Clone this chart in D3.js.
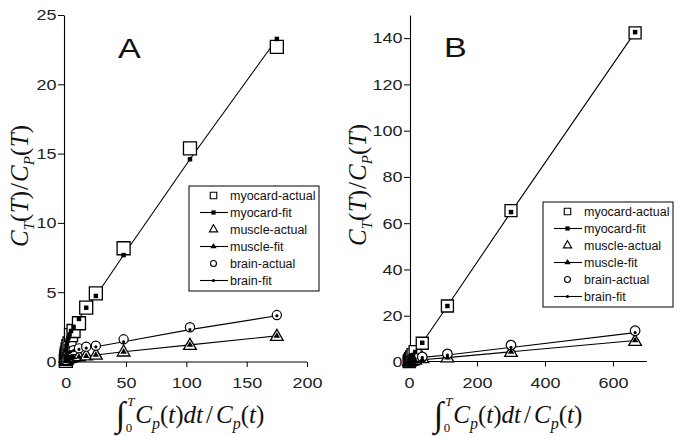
<!DOCTYPE html>
<html><head><meta charset="utf-8">
<script src="https://cdn.jsdelivr.net/npm/d3@7"></script>
<style>body{margin:0;background:#fff}svg{display:block}</style>
</head><body>
<script>
// ---------- data ----------
const legendLabels = ["myocard-actual","myocard-fit","muscle-actual","muscle-fit","brain-actual","brain-fit"];
const panelLabels = ["A","B"];

const xA      = [0.1,0.3,0.6,1.0,1.5,2.2,3.2,4.4,6.5,11,17,25,48,103,175];
const myoActA = [0.05,0.2,0.4,0.6,0.85,1.1,1.3,1.9,2.2,2.76,3.88,4.92,8.17,15.38,22.7];
const myoFitA = [0.35,0.8,1.1,1.3,1.5,1.7,1.95,2.2,2.5,3.07,3.88,4.73,7.68,14.59,23.27];
const musActA = [0.02,0.06,0.1,0.13,0.16,0.19,0.21,0.24,0.28,0.32,0.38,0.43,0.66,1.14,1.79];
const musFitA = [0.04,0.09,0.12,0.15,0.18,0.2,0.22,0.25,0.29,0.33,0.39,0.47,0.7,1.2,1.85];
const brnActA = [0.1,0.25,0.4,0.5,0.58,0.64,0.7,0.75,0.82,0.95,1.07,1.14,1.6,2.47,3.35];
const brnFitA = [0.15,0.3,0.42,0.5,0.57,0.62,0.67,0.72,0.78,0.88,0.97,1.06,1.42,2.3,3.3];

const xB      = [0.5,1.5,3,5,8,12,18,39,113,300,665];
const myoActB = [0.2,0.5,0.9,1.4,2.2,3.2,4.5,8.1,24.2,65.4,142.3];
const myoFitB = [0.3,0.6,1.0,1.5,2.2,3.0,4.3,8.3,24.2,64.8,142.6];
const musActB = [0.05,0.1,0.2,0.3,0.4,0.5,0.7,1.3,1.6,4.0,8.8];
const musFitB = [0.05,0.15,0.25,0.35,0.45,0.55,0.7,1.0,1.9,4.4,9.3];
const brnActB = [0.2,0.5,0.8,1.0,1.2,1.4,1.7,2.2,3.5,7.3,13.5];
const brnFitB = [0.3,0.6,0.85,1.0,1.15,1.3,1.5,2.0,3.0,6.3,12.7];

const xTicksA = [0,50,100,150,200];
const yTicksA = [0,5,10,15,20,25];
const xTicksB = [0,200,400,600];
const yTicksB = [0,20,40,60,80,100,120,140];

// ---------- drawing ----------
const W = 685, H = 436;
const svg = d3.select("body").append("svg").attr("width", W).attr("height", H);
const SANS = "'Liberation Sans', Arial, sans-serif";
const SERIF = "'Liberation Serif', 'Times New Roman', serif";
const STRETCH = 1.2;

const panels = [
  {label: panelLabels[0], x: xA, series: [myoActA, myoFitA, musActA, musFitA, brnActA, brnFitA],
   xDom: [0,200], xRange: [65.7,307], yDom: [0,25], yRange: [361.5,15], xTicks: xTicksA, yTicks: yTicksA,
   axisX: 64, axisY: 362, letter: [118,58], legend: [189,186], ytitle: [28,186], xtitle: [190,423],
   sq: 13, tri: 70, circ: 4.6},
  {label: panelLabels[1], x: xB, series: [myoActB, myoFitB, musActB, musFitB, brnActB, brnFitB],
   xDom: [0,700], xRange: [409,647], yDom: [0,150], yRange: [362,15], xTicks: xTicksB, yTicks: yTicksB,
   axisX: 410, axisY: 361.5, letter: [444,57], legend: [543,202], ytitle: [366,185], xtitle: [508,423],
   sq: 12, tri: 70, circ: 4.8}
];

function layoutMath(parent, pieces) {
  let x = 0;
  pieces.forEach(p => {
    const t = parent.append("text")
      .attr("x", x + (p.dx || 0)).attr("y", p.dy || 0)
      .attr("font-family", SERIF).attr("font-size", p.fs)
      .attr("font-style", p.it ? "italic" : "normal")
      .attr("fill", "#111").text(p.t);
    const w = t.node().getComputedTextLength();
    x += w + (p.dx || 0) + (p.gap || 0);
  });
  return x;
}

panels.forEach(P => {
  const g = svg.append("g");
  const x = d3.scaleLinear().domain(P.xDom).range(P.xRange);
  const y = d3.scaleLinear().domain(P.yDom).range(P.yRange);

  // axes
  const yAx = g.append("g").attr("transform", `translate(${P.axisX},0)`)
    .call(d3.axisLeft(y).tickValues(P.yTicks).tickSize(6).tickSizeOuter(0).tickFormat(d3.format("d")));
  const xAx = g.append("g").attr("transform", `translate(0,${P.axisY})`)
    .call(d3.axisBottom(x).tickValues(P.xTicks).tickSize(5).tickSizeOuter(0).tickFormat(d3.format("d")));
  [yAx, xAx].forEach(a => {
    a.select(".domain").attr("stroke", "#000").attr("stroke-width", 1.1);
    a.selectAll(".tick line").attr("stroke", "#000").attr("stroke-width", 1);
    a.selectAll("text").attr("font-family", SANS).attr("font-size", 15).attr("fill", "#222");
  });
  xAx.select(".domain").attr("d", `M${P.axisX},0H${P.xRange[1]}`);
  yAx.selectAll("text").attr("x", -7.5 / STRETCH).attr("transform", `scale(${STRETCH},1)`);
  xAx.selectAll("text").attr("y", 26.5).attr("dy", 0).attr("transform", `scale(${STRETCH},1)`);

  // panel letter
  g.append("text").attr("transform", `translate(${P.letter[0]},${P.letter[1]}) scale(1.22,1)`)
    .attr("font-family", SANS).attr("font-size", 28).attr("fill", "#111").text(P.label);

  const pts = P.series.map(s => P.x.map((v, i) => [v, s[i]]));
  const line = d3.line().x(d => x(d[0])).y(d => y(d[1]));
  const plot = g.append("g");
  [1, 3, 5].forEach(k => {
    plot.append("path").datum(pts[k]).attr("d", line)
      .attr("fill", "none").attr("stroke", "#000").attr("stroke-width", 1.1);
  });
  const sym = (type, size) => d3.symbol().type(type).size(size)();
  const drawActual = (data, type, size, sw) => {
    plot.append("g").selectAll("path").data(data).join("path")
      .attr("transform", d => `translate(${x(d[0])},${y(d[1])})`)
      .attr("d", sym(type, size)).attr("fill", "#fff").attr("stroke", "#000").attr("stroke-width", sw);
  };
  drawActual(pts[0], d3.symbolSquare, P.sq * P.sq, 1.3);
  drawActual(pts[2], d3.symbolTriangle, P.tri, 1.3);
  drawActual(pts[4], d3.symbolCircle, Math.PI * P.circ * P.circ, 1.2);
  const drawFit = (data, type, size) => {
    plot.append("g").selectAll("path").data(data).join("path")
      .attr("transform", d => `translate(${x(d[0])},${y(d[1])})`)
      .attr("d", sym(type, size)).attr("fill", "#000");
  };
  drawFit(pts[1], d3.symbolSquare, 20);
  drawFit(pts[3], d3.symbolTriangle, 18);
  drawFit(pts[5], d3.symbolCircle, 8);

  // legend
  const [lx, ly] = P.legend;
  const lg = g.append("g").attr("transform", `translate(${lx},${ly})`);
  lg.append("rect").attr("x", 0).attr("y", 0).attr("width", 130).attr("height", 105)
    .attr("fill", "#fff").attr("stroke", "#000").attr("stroke-width", 1);
  const legSym = [
    {type: d3.symbolSquare, size: 42, fill: "#fff", line: false},
    {type: d3.symbolSquare, size: 18, fill: "#000", line: true},
    {type: d3.symbolTriangle, size: 30, fill: "#fff", line: false},
    {type: d3.symbolTriangle, size: 17, fill: "#000", line: true},
    {type: d3.symbolCircle, size: 28, fill: "#fff", line: false},
    {type: d3.symbolCircle, size: 8, fill: "#000", line: true}
  ];
  legendLabels.forEach((lab, i) => {
    const ry = 9.5 + i * 17;
    const s = legSym[i];
    if (s.line) lg.append("line").attr("x1", 11).attr("x2", 39).attr("y1", ry).attr("y2", ry)
      .attr("stroke", "#000").attr("stroke-width", 1.1);
    lg.append("path").attr("transform", `translate(24.5,${ry})`).attr("d", sym(s.type, s.size))
      .attr("fill", s.fill).attr("stroke", s.fill === "#fff" ? "#000" : "none").attr("stroke-width", 1.1);
    lg.append("text").attr("x", 41).attr("y", ry + 4.3).attr("font-family", SANS).attr("font-size", 12.5)
      .attr("fill", "#111").text(lab);
  });

  // y title (rotated)
  const yt = g.append("g");
  const ytInner = yt.append("g");
  const wy = layoutMath(ytInner, [
    {t: "C", fs: 25, it: true},
    {t: "T", fs: 15, it: true, dy: 6},
    {t: "(", fs: 25, gap: 0.5},
    {t: "T", fs: 25, it: true},
    {t: ")", fs: 25, gap: 1},
    {t: "/", fs: 25, gap: 1},
    {t: "C", fs: 25, it: true},
    {t: "P", fs: 15, it: true, dy: 6},
    {t: "(", fs: 25, gap: 0.5},
    {t: "T", fs: 25, it: true},
    {t: ")", fs: 25}
  ]);
  ytInner.attr("transform", `translate(${-wy / 2},0)`);
  yt.attr("transform", `translate(${P.ytitle[0]},${P.ytitle[1]}) rotate(-90)`);

  // x title
  const xt = g.append("g");
  const xtInner = xt.append("g");
  const intW = layoutMath(xtInner, [{t: "\u222B", fs: 35, dy: 3}]);
  xtInner.append("text").attr("x", intW + 2).attr("y", -17).attr("font-family", SERIF)
    .attr("font-size", 13).attr("font-style", "italic").attr("fill", "#111").text("T");
  xtInner.append("text").attr("x", intW + 0.5).attr("y", 9).attr("font-family", SERIF)
    .attr("font-size", 13).attr("fill", "#111").text("0");
  const restG = xtInner.append("g").attr("transform", `translate(${intW + 10},0)`);
  const wr = layoutMath(restG, [
    {t: "C", fs: 25, it: true},
    {t: "p", fs: 16, it: true, dy: 6},
    {t: "(", fs: 25},
    {t: "t", fs: 25, it: true},
    {t: ")", fs: 25},
    {t: "dt", fs: 25, it: true, gap: 3},
    {t: "/", fs: 25, gap: 3},
    {t: "C", fs: 25, it: true},
    {t: "p", fs: 16, it: true, dy: 6},
    {t: "(", fs: 25},
    {t: "t", fs: 25, it: true},
    {t: ")", fs: 25}
  ]);
  const wx = intW + 10 + wr;
  xtInner.attr("transform", `translate(${-wx / 2},0)`);
  xt.attr("transform", `translate(${P.xtitle[0]},${P.xtitle[1]})`);
});
</script>
</body></html>
